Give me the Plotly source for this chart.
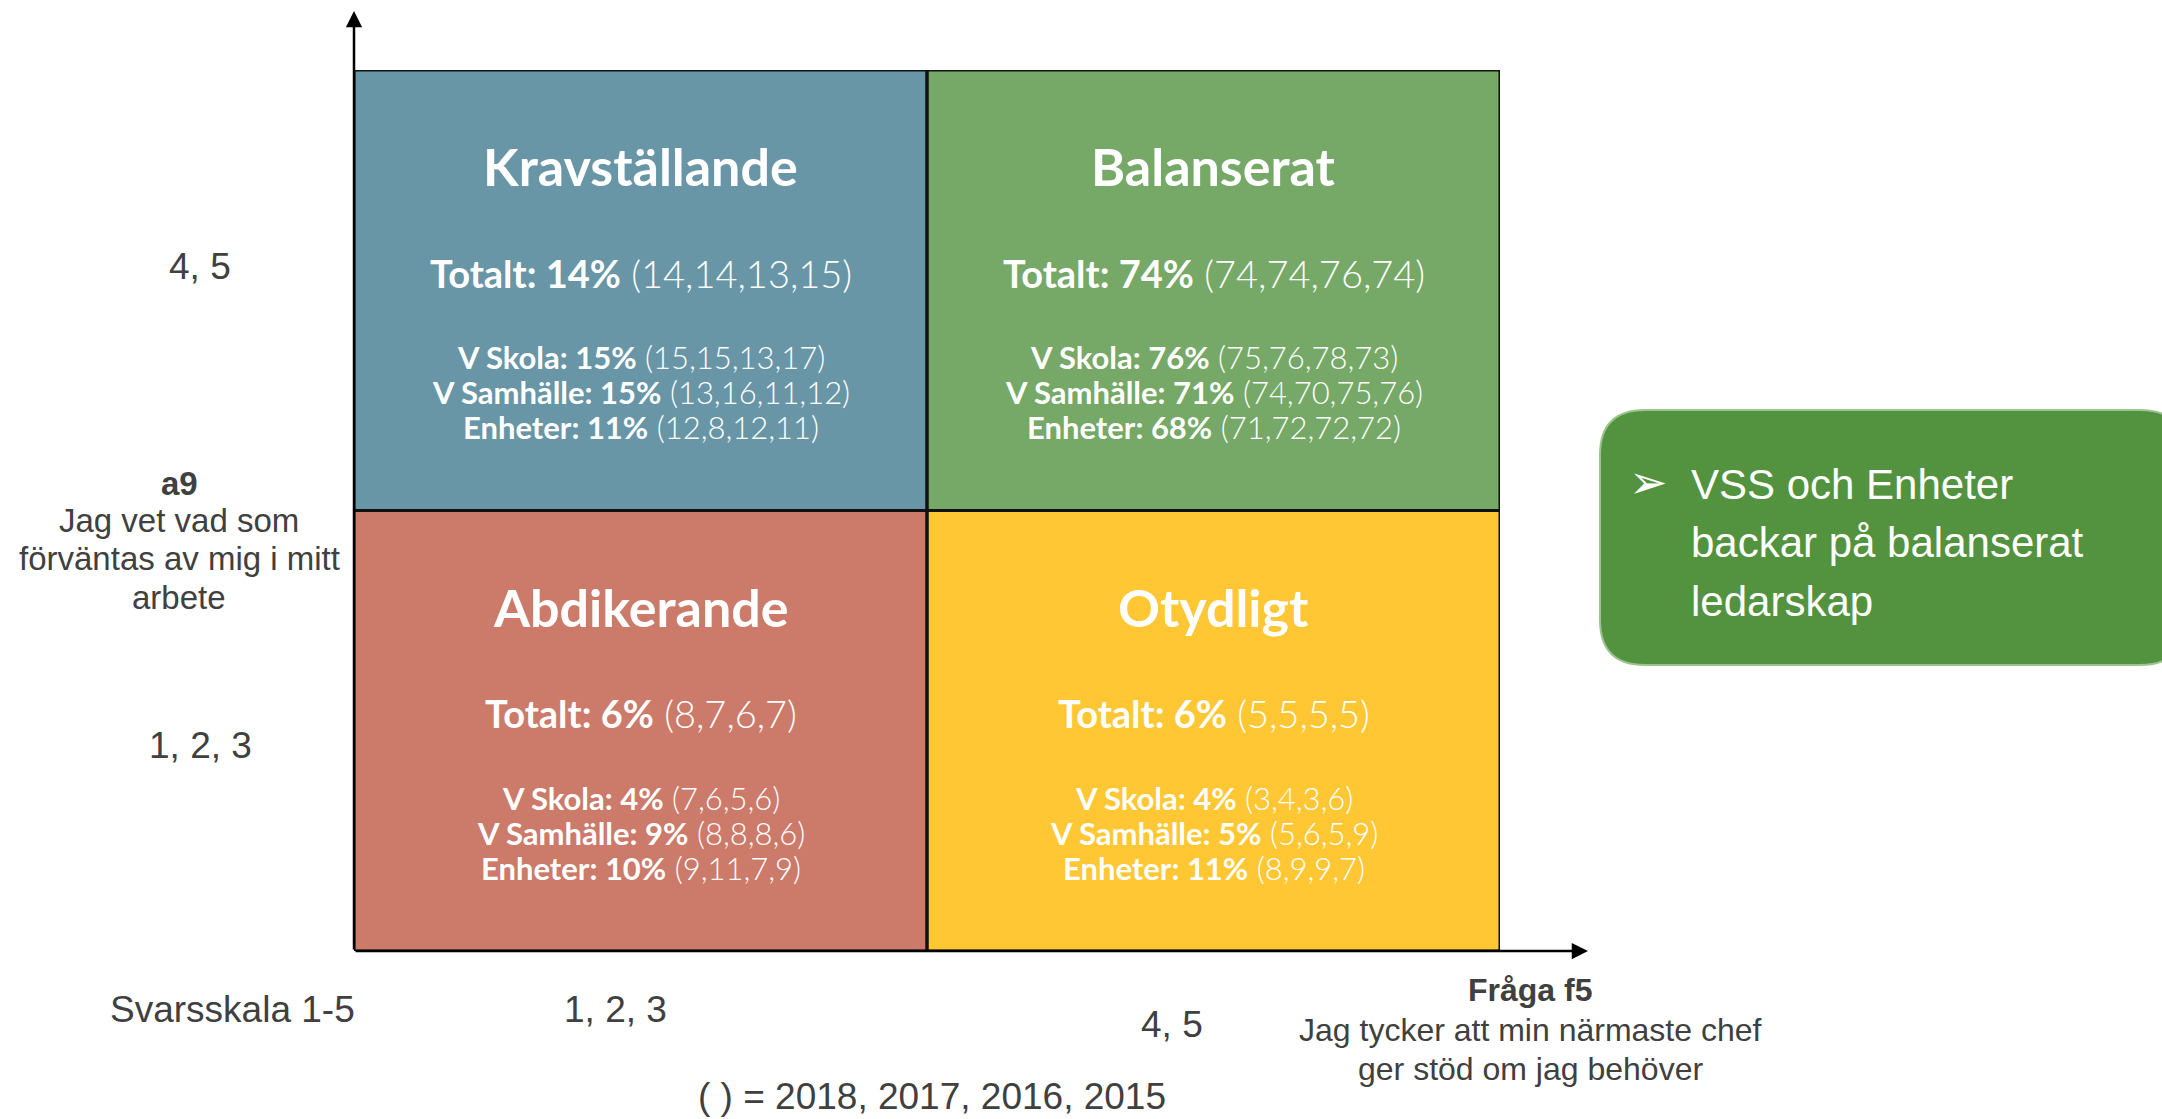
import plotly.graph_objects as go

W, H = 2162, 1119

# ---------------- data ----------------
x_categories = ["1, 2, 3", "4, 5"]          # Fråga f5
y_categories = ["1, 2, 3", "4, 5"]          # a9

quadrant_names = ["Abdikerande", "Otydligt", "Kravställande", "Balanserat"]
quadrant_xi = [0, 1, 0, 1]
quadrant_yi = [0, 0, 1, 1]
quadrant_colors = ["#CC7A6A", "#FFC734", "#6896A6", "#76A867"]

totalt_now = [6, 6, 14, 74]
totalt_hist = [[8, 7, 6, 7], [5, 5, 5, 5], [14, 14, 13, 15], [74, 74, 76, 74]]
skola_now = [4, 4, 15, 76]
skola_hist = [[7, 6, 5, 6], [3, 4, 3, 6], [15, 15, 13, 17], [75, 76, 78, 73]]
samhalle_now = [9, 5, 15, 71]
samhalle_hist = [[8, 8, 8, 6], [5, 6, 5, 9], [13, 16, 11, 12], [74, 70, 75, 76]]
enheter_now = [10, 11, 11, 68]
enheter_hist = [[9, 11, 7, 9], [8, 9, 9, 7], [12, 8, 12, 11], [71, 72, 72, 72]]

years = [2018, 2017, 2016, 2015]
note_text = "( ) = " + ", ".join(str(y) for y in years)
y_title_lines = ["<b>a9</b>", "Jag vet vad som", "förväntas av mig i mitt", "arbete"]
x_title_lines = ["<b>Fråga f5</b>", "Jag tycker att min närmaste chef", "ger stöd om jag behöver"]
callout_lines = ["VSS och Enheter", "backar på balanserat", "ledarskap"]

# ---------------- layout helpers ----------------
PX_L, PX_R, PX_T, PX_B = 354, 1500, 70, 951


def px(x):
    return x / W


def py(y):
    return 1 - y / H


fig = go.Figure()

# quadrant fills
for i, name in enumerate(quadrant_names):
    x0, y0 = quadrant_xi[i], quadrant_yi[i]
    fig.add_trace(go.Scatter(
        x=[x0, x0 + 1, x0 + 1, x0, x0],
        y=[y0, y0, y0 + 1, y0 + 1, y0],
        fill="toself", fillcolor=quadrant_colors[i],
        mode="lines", line=dict(color=quadrant_colors[i], width=0),
        hoverinfo="skip", showlegend=False, name=name,
    ))
# quadrant outlines on top
for i, name in enumerate(quadrant_names):
    x0, y0 = quadrant_xi[i], quadrant_yi[i]
    fig.add_trace(go.Scatter(
        x=[x0, x0 + 1, x0 + 1, x0, x0],
        y=[y0, y0, y0 + 1, y0 + 1, y0],
        mode="lines", line=dict(color="#111111", width=3),
        hoverinfo="skip", showlegend=False, cliponaxis=False,
    ))

QFONT = "Lato"
annotations = []


def fmt(h):
    return "(" + ",".join(str(v) for v in h) + ")"


def ann(x, y, text, size, color="white", family=QFONT, weight=None, xref="x", yref="y",
        xanchor="center"):
    f = dict(family=family, size=size, color=color)
    if weight is not None:
        f["weight"] = weight
    return dict(x=x, y=y, xref=xref, yref=yref, text=text, showarrow=False, font=f,
                xanchor=xanchor, yanchor="middle")


for i, name in enumerate(quadrant_names):
    cx = quadrant_xi[i] + 0.5
    top = quadrant_yi[i] + 1
    annotations.append(ann(cx, top - 0.218, f"<b>{name}</b>", 52))
    annotations.append(ann(cx, top - 0.46, f"<b>Totalt: {totalt_now[i]}%</b> {fmt(totalt_hist[i])}",
                           38, weight=300))
    rows = [("V Skola", skola_now, skola_hist), ("V Samhälle", samhalle_now, samhalle_hist),
            ("Enheter", enheter_now, enheter_hist)]
    for k, (lab, now, hist) in enumerate(rows):
        annotations.append(ann(cx, top - [0.652, 0.731, 0.811][k],
                               f"<b>{lab}: {now[i]}%</b> {fmt(hist[i])}", 31, weight=300))

# axis arrows
annotations.append(dict(xref="paper", yref="paper", x=px(PX_L), y=py(11), axref="pixel", ayref="pixel",
                        ax=0, ay=PX_B - 11, text="", showarrow=True, arrowhead=2, arrowsize=1.3,
                        arrowwidth=2.5, arrowcolor="black"))
annotations.append(dict(xref="paper", yref="paper", x=px(1588), y=py(PX_B), axref="pixel", ayref="pixel",
                        ax=-(1588 - PX_L), ay=0, text="", showarrow=True, arrowhead=2, arrowsize=1.3,
                        arrowwidth=2.5, arrowcolor="black"))

LFONT = "Liberation Sans"
GREY = "#404040"
P = dict(xref="paper", yref="paper")
# y category labels
annotations.append(ann(px(200), py(266), y_categories[1], 37, GREY, LFONT, **P))
annotations.append(ann(px(200), py(745), y_categories[0], 37, GREY, LFONT, **P))
# x category labels
annotations.append(ann(px(615), py(1009), x_categories[0], 37, GREY, LFONT, **P))
annotations.append(ann(px(1172), py(1024), x_categories[1], 37, GREY, LFONT, **P))
annotations.append(ann(px(232), py(1009), "Svarsskala 1-5", 37, GREY, LFONT, **P))
annotations.append(ann(px(932), py(1096), note_text, 37, GREY, LFONT, **P))
# axis titles
for k, line in enumerate(y_title_lines):
    annotations.append(ann(px(179), py([483, 521, 558, 597][k]), line, 33, GREY, LFONT, **P))
for k, line in enumerate(x_title_lines):
    annotations.append(ann(px(1530), py([990, 1030, 1069][k]), line, 32, GREY, LFONT, **P))

# callout box
bx0, bx1, by0, by1, r = 1600, 2185, 410, 665, 45
path = (f"M {px(bx0 + r)},{py(by0)} L {px(bx1 - r)},{py(by0)} "
        f"Q {px(bx1)},{py(by0)} {px(bx1)},{py(by0 + r)} L {px(bx1)},{py(by1 - r)} "
        f"Q {px(bx1)},{py(by1)} {px(bx1 - r)},{py(by1)} L {px(bx0 + r)},{py(by1)} "
        f"Q {px(bx0)},{py(by1)} {px(bx0)},{py(by1 - r)} L {px(bx0)},{py(by0 + r)} "
        f"Q {px(bx0)},{py(by0)} {px(bx0 + r)},{py(by0)} Z")
shapes = [dict(type="path", xref="paper", yref="paper", path=path, fillcolor="#53933F",
               line=dict(color="#9CC48E", width=2), layer="below")]

annotations.append(ann(px(1648), py(482), "➢", 46, "white", "DejaVu Sans", **P))
for k, line in enumerate(callout_lines):
    annotations.append(ann(px(1689), py([485, 542, 601][k]), line, 42, "white", LFONT,
                           xanchor="left", **P))

fig.update_layout(
    width=W, height=H, margin=dict(l=0, r=0, t=0, b=0),
    paper_bgcolor="white", plot_bgcolor="rgba(0,0,0,0)",
    xaxis=dict(domain=[px(PX_L), px(PX_R)], range=[0, 2], visible=False, fixedrange=True),
    yaxis=dict(domain=[py(PX_B), py(PX_T)], range=[0, 2], visible=False, fixedrange=True),
    annotations=annotations, shapes=shapes, showlegend=False,
)

fig.write_html("out.html", config={"displayModeBar": False},
               post_script="document.body.style.margin='0';document.body.style.overflow='hidden';")
